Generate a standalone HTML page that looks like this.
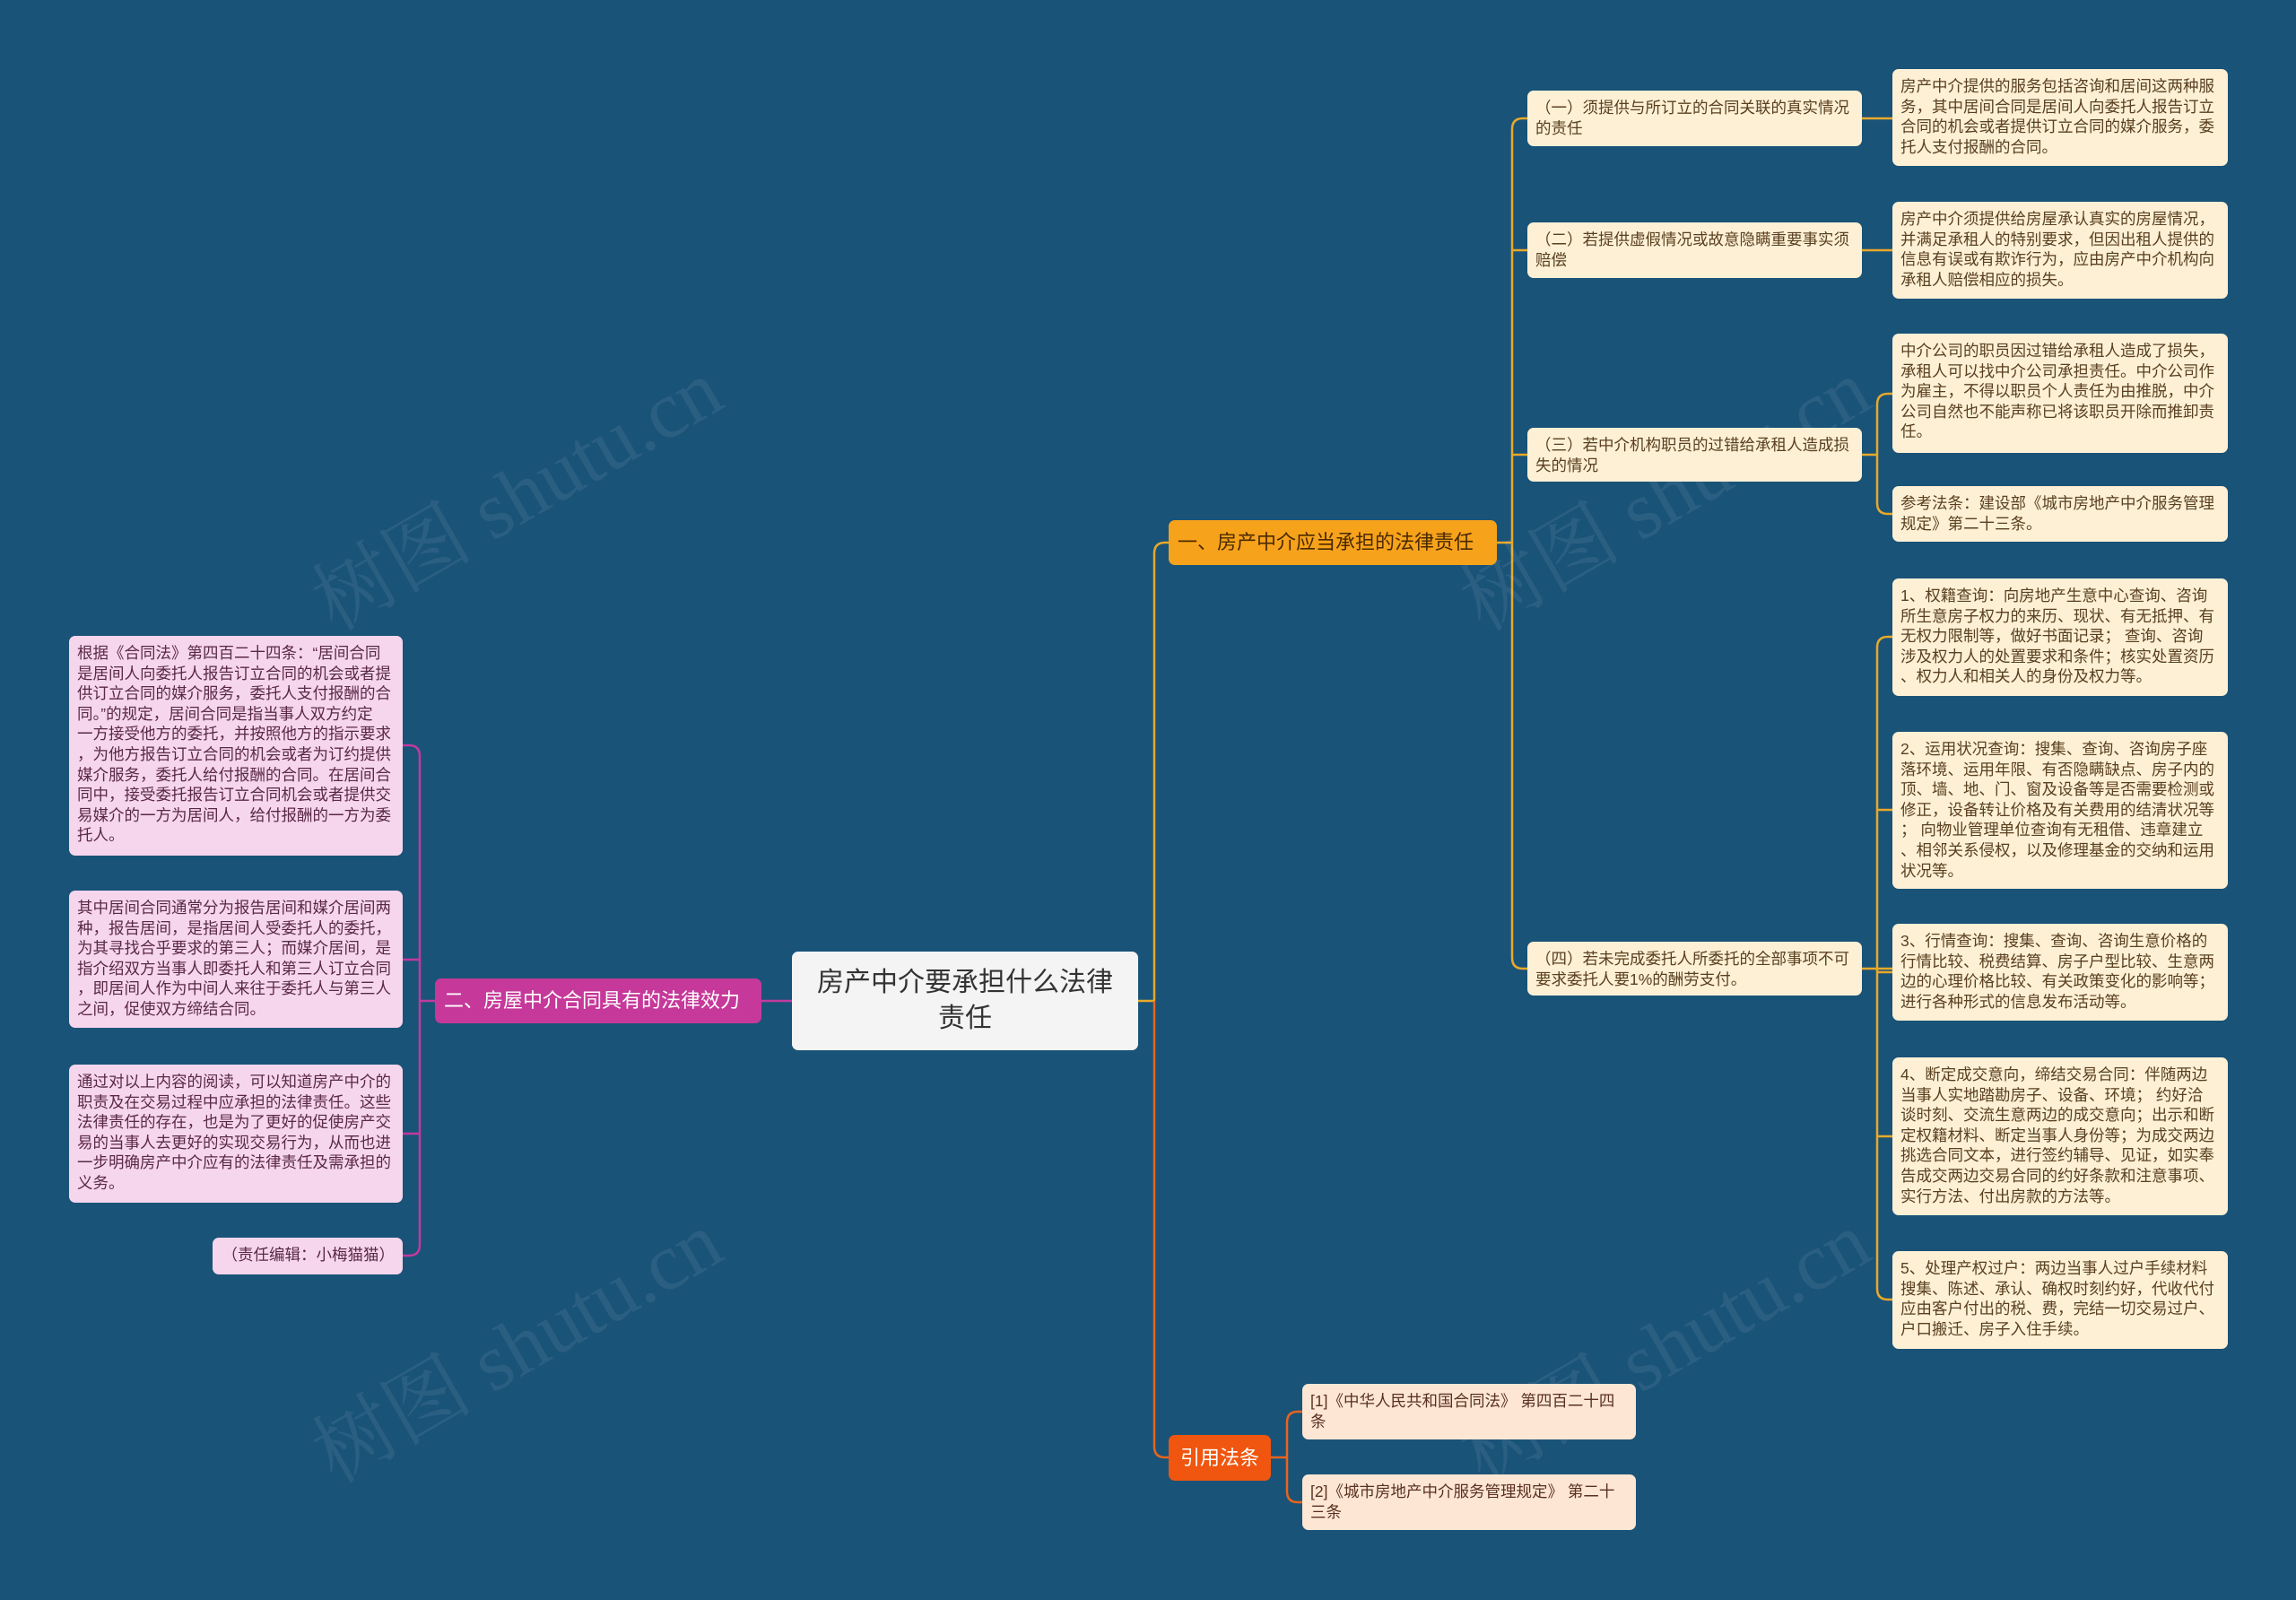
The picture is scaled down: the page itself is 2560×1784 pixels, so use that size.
<!DOCTYPE html>
<html><head><meta charset="utf-8"><style>
html,body{margin:0;padding:0}
body{width:2560px;height:1784px;background:#1a5378;position:relative;overflow:hidden;font-family:"Liberation Sans","Noto Sans CJK SC",sans-serif}
.n{position:absolute;box-sizing:border-box;border-radius:7px;white-space:nowrap;overflow:hidden}
.c{background:#fdf0d5;color:#5a4020;font-size:17.5px;line-height:22.6px;padding:8px 9px}
.p{background:#f6d6ec;color:#5a2848;font-size:17.5px;line-height:22.6px;padding:8px 9px}
.r{background:#fde6d4;color:#5a3020;font-size:17.5px;line-height:22.6px;padding:8px 9px}
.wm{position:absolute;color:#fff;opacity:.07;font-family:"Liberation Serif","Noto Serif CJK SC",serif;font-size:90px;transform:rotate(-30deg);white-space:nowrap}
</style></head><body>
<svg width="2560" height="1784" style="position:absolute;left:0;top:0" fill="none" stroke-width="2.5">
<g stroke="#e8a92a">
<path d="M1269 1116 H1287 M1287 1116 V617 Q1287 605 1299 605 H1303"/>
<path d="M1669 605 H1686 M1686 144 Q1686 132 1698 132 H1703 M1686 144 V1068 Q1686 1080 1698 1080 H1703"/>
<path d="M1686 279 H1703 M1686 507 H1703"/>
<path d="M2076 132 H2110 M2076 279 H2110"/>
<path d="M2076 507 H2093 M2093 451 Q2093 439 2105 439 H2110 M2093 451 V561 Q2093 573 2105 573 H2110"/>
<path d="M2076 1080 H2110 M2093 722 Q2093 710 2105 710 H2110 M2093 722 V1437 Q2093 1449 2105 1449 H2110 M2093 903 H2110 M2093 1084 H2110 M2093 1267 H2110"/>
</g>
<g stroke="#e8641e">
<path d="M1287 1116 V1613 Q1287 1625 1299 1625 H1303"/>
<path d="M1417 1625 H1435 M1435 1586 Q1435 1574 1447 1574 H1452 M1435 1586 V1663 Q1435 1675 1447 1675 H1452"/>
</g>
<g stroke="#c23a9c">
<path d="M883 1116 H849"/>
<path d="M485 1116 H468 M468 843 Q468 831 456 831 H449 M468 843 V1388 Q468 1400 456 1400 H449 M468 1070 H449 M468 1264 H449"/>
</g>
</svg>
<div class="wm" style="left:320px;top:480px">树图 shutu.cn</div>
<div class="wm" style="left:320px;top:1430px">树图 shutu.cn</div>
<div class="wm" style="left:1600px;top:480px">树图 shutu.cn</div>
<div class="wm" style="left:1600px;top:1430px">树图 shutu.cn</div>

<div class="n" style="left:883px;top:1061px;width:386px;height:110px;background:#f4f4f4;color:#333;font-size:30px;line-height:40px;text-align:center;padding-top:15px">房产中介要承担什么法律<br>责任</div>
<div class="n" style="left:1303px;top:580px;width:366px;height:50px;background:#f7a21b;color:#4a2a00;font-size:22px;line-height:50px;padding-left:10px">一、房产中介应当承担的法律责任</div>
<div class="n" style="left:485px;top:1091px;width:364px;height:50px;background:#c6399a;color:#fff;font-size:22px;line-height:50px;padding-left:10px">二、房屋中介合同具有的法律效力</div>
<div class="n" style="left:1303px;top:1600px;width:114px;height:51px;background:#f0560f;color:#fff;font-size:22px;line-height:51px;text-align:center">引用法条</div>

<div class="n c" style="left:1703px;top:101px;width:373px;height:62px">（一）须提供与所订立的合同关联的真实情况<br>的责任</div>
<div class="n c" style="left:1703px;top:248px;width:373px;height:62px">（二）若提供虚假情况或故意隐瞒重要事实须<br>赔偿</div>
<div class="n c" style="left:1703px;top:477px;width:373px;height:60px">（三）若中介机构职员的过错给承租人造成损<br>失的情况</div>
<div class="n c" style="left:1703px;top:1050px;width:373px;height:60px">（四）若未完成委托人所委托的全部事项不可<br>要求委托人要1%的酬劳支付。</div>

<div class="n c" style="left:2110px;top:77px;width:374px;height:108px">房产中介提供的服务包括咨询和居间这两种服<br>务，其中居间合同是居间人向委托人报告订立<br>合同的机会或者提供订立合同的媒介服务，委<br>托人支付报酬的合同。</div>
<div class="n c" style="left:2110px;top:225px;width:374px;height:108px">房产中介须提供给房屋承认真实的房屋情况，<br>并满足承租人的特别要求，但因出租人提供的<br>信息有误或有欺诈行为，应由房产中介机构向<br>承租人赔偿相应的损失。</div>
<div class="n c" style="left:2110px;top:372px;width:374px;height:133px">中介公司的职员因过错给承租人造成了损失，<br>承租人可以找中介公司承担责任。中介公司作<br>为雇主，不得以职员个人责任为由推脱，中介<br>公司自然也不能声称已将该职员开除而推卸责<br>任。</div>
<div class="n c" style="left:2110px;top:542px;width:374px;height:62px">参考法条：建设部《城市房地产中介服务管理<br>规定》第二十三条。</div>
<div class="n c" style="left:2110px;top:645px;width:374px;height:131px">1、权籍查询：向房地产生意中心查询、咨询<br>所生意房子权力的来历、现状、有无抵押、有<br>无权力限制等，做好书面记录； 查询、咨询<br>涉及权力人的处置要求和条件；核实处置资历<br>、权力人和相关人的身份及权力等。</div>
<div class="n c" style="left:2110px;top:816px;width:374px;height:175px">2、运用状况查询：搜集、查询、咨询房子座<br>落环境、运用年限、有否隐瞒缺点、房子内的<br>顶、墙、地、门、窗及设备等是否需要检测或<br>修正，设备转让价格及有关费用的结清状况等<br>； 向物业管理单位查询有无租借、违章建立<br>、相邻关系侵权，以及修理基金的交纳和运用<br>状况等。</div>
<div class="n c" style="left:2110px;top:1030px;width:374px;height:108px">3、行情查询：搜集、查询、咨询生意价格的<br>行情比较、税费结算、房子户型比较、生意两<br>边的心理价格比较、有关政策变化的影响等；<br>进行各种形式的信息发布活动等。</div>
<div class="n c" style="left:2110px;top:1179px;width:374px;height:176px">4、断定成交意向，缔结交易合同：伴随两边<br>当事人实地踏勘房子、设备、环境； 约好洽<br>谈时刻、交流生意两边的成交意向；出示和断<br>定权籍材料、断定当事人身份等；为成交两边<br>挑选合同文本，进行签约辅导、见证，如实奉<br>告成交两边交易合同的约好条款和注意事项、<br>实行方法、付出房款的方法等。</div>
<div class="n c" style="left:2110px;top:1395px;width:374px;height:109px">5、处理产权过户：两边当事人过户手续材料<br>搜集、陈述、承认、确权时刻约好，代收代付<br>应由客户付出的税、费，完结一切交易过户、<br>户口搬迁、房子入住手续。</div>

<div class="n p" style="left:77px;top:709px;width:372px;height:245px">根据《合同法》第四百二十四条：“居间合同<br>是居间人向委托人报告订立合同的机会或者提<br>供订立合同的媒介服务，委托人支付报酬的合<br>同。”的规定，居间合同是指当事人双方约定<br>一方接受他方的委托，并按照他方的指示要求<br>，为他方报告订立合同的机会或者为订约提供<br>媒介服务，委托人给付报酬的合同。在居间合<br>同中，接受委托报告订立合同机会或者提供交<br>易媒介的一方为居间人，给付报酬的一方为委<br>托人。</div>
<div class="n p" style="left:77px;top:993px;width:372px;height:153px">其中居间合同通常分为报告居间和媒介居间两<br>种，报告居间，是指居间人受委托人的委托，<br>为其寻找合乎要求的第三人；而媒介居间，是<br>指介绍双方当事人即委托人和第三人订立合同<br>，即居间人作为中间人来往于委托人与第三人<br>之间，促使双方缔结合同。</div>
<div class="n p" style="left:77px;top:1187px;width:372px;height:154px">通过对以上内容的阅读，可以知道房产中介的<br>职责及在交易过程中应承担的法律责任。这些<br>法律责任的存在，也是为了更好的促使房产交<br>易的当事人去更好的实现交易行为，从而也进<br>一步明确房产中介应有的法律责任及需承担的<br>义务。</div>
<div class="n p" style="left:237px;top:1380px;width:212px;height:41px;text-align:right">（责任编辑：小梅猫猫）</div>

<div class="n r" style="left:1452px;top:1543px;width:372px;height:62px">[1]《中华人民共和国合同法》 第四百二十四<br>条</div>
<div class="n r" style="left:1452px;top:1644px;width:372px;height:62px">[2]《城市房地产中介服务管理规定》 第二十<br>三条</div>
</body></html>
